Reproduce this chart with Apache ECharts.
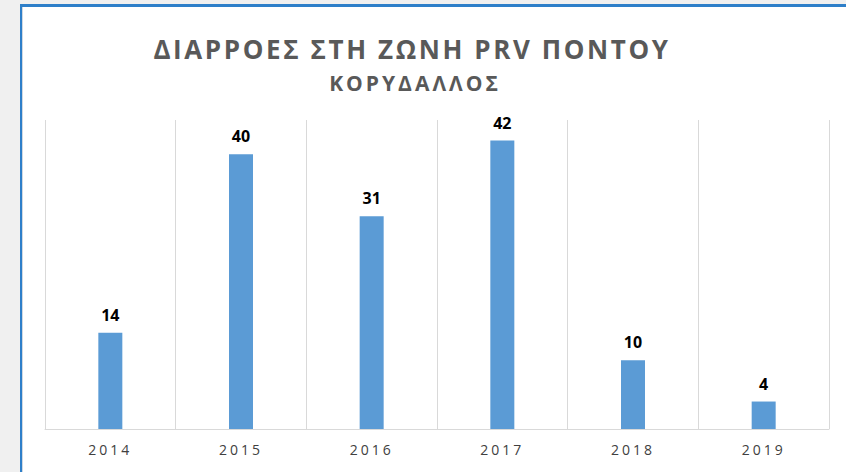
<!DOCTYPE html>
<html>
<head>
<meta charset="utf-8">
<title>Διαρροές</title>
<script src="https://cdn.jsdelivr.net/npm/echarts@6/dist/echarts.min.js"></script>
<style>
  html, body { margin: 0; padding: 0; background: #f0f0f0; }
  #main { width: 846px; height: 472px; }
  /* spaced-out lettering like the original (svg renderer keeps text as <text>) */
  #main text[style*="26px"] { letter-spacing: 2.6px; }
  #main text[style*="21px"] { letter-spacing: 3px; }
  #main text[style*="14px"] { letter-spacing: 3px; }
</style>
</head>
<body>
<div id="main"></div>
<script>
var years = ["2014", "2015", "2016", "2017", "2018", "2019"];
var leaks = [14, 40, 31, 42, 10, 4];
var titleText = "ΔΙΑΡΡΟΕΣ ΣΤΗ ΖΩΝΗ PRV ΠΟΝΤΟΥ";
var subText = "ΚΟΡΥΔΑΛΛΟΣ";

var chart = echarts.init(document.getElementById("main"), null, { renderer: "svg" });

var option = {
  backgroundColor: "#f0f0f0",
  animation: false,
  graphic: [
    // white chart area with blue frame on top and left
    { type: "rect", z: -10, shape: { x: 20, y: 4, width: 826, height: 468 }, style: { fill: "#ffffff" } },
    { type: "rect", z: -9, shape: { x: 20, y: 4, width: 826, height: 3 }, style: { fill: "#2e7fc9" } },
    { type: "rect", z: -9, shape: { x: 20, y: 4, width: 2, height: 468 }, style: { fill: "#2e7fc9" } },
    { type: "rect", z: -9, shape: { x: 22, y: 7, width: 1, height: 465 }, style: { fill: "#d0d8e0" } }
  ],
  title: [
    {
      text: titleText,
      left: 407,
      top: 31,
      textAlign: "center",
      textStyle: { fontFamily: "Open Sans", fontWeight: "bold", fontSize: 26, color: "#595959" }
    },
    {
      text: subText,
      left: 410,
      top: 67,
      textAlign: "center",
      textStyle: { fontFamily: "Open Sans", fontWeight: "bold", fontSize: 21, color: "#595959" }
    }
  ],
  grid: { left: 45, right: 17, top: 120, bottom: 43 },
  xAxis: {
    type: "category",
    data: years,
    axisLine: { show: true, lineStyle: { color: "#d9d9d9", width: 1 } },
    axisTick: { show: false },
    axisLabel: {
      margin: 13,
      color: "#404040",
      fontFamily: "Open Sans",
      fontSize: 14
    },
    splitLine: { show: true, lineStyle: { color: "#d9d9d9", width: 1 } }
  },
  yAxis: {
    type: "value",
    min: 0,
    max: 45,
    interval: 5,
    axisLine: { show: false },
    axisTick: { show: false },
    axisLabel: { show: false },
    splitLine: { show: false }
  },
  series: [
    {
      type: "bar",
      data: leaks,
      barWidth: 24,
      itemStyle: { color: "#5b9bd5" },
      label: {
        show: true,
        position: "top",
        distance: 10,
        color: "#000000",
        fontFamily: "Open Sans",
        fontWeight: "bold",
        fontSize: 16
      }
    }
  ]
};

chart.setOption(option);
</script>
</body>
</html>
